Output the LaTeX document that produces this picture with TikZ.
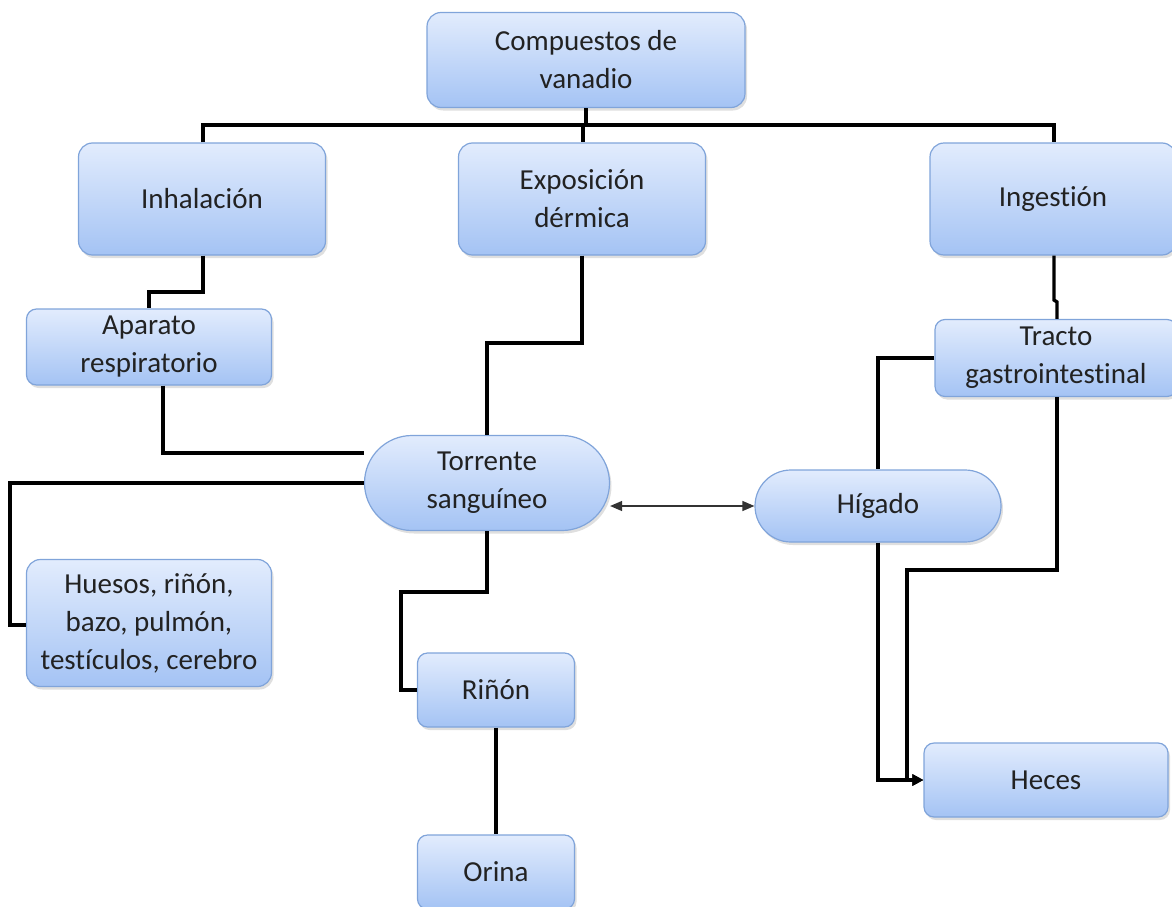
\documentclass[tikz,border=0pt]{standalone}
\usepackage{fontspec}
\setmainfont[Ligatures=NoCommon]{Carlito}
\usetikzlibrary{shapes.misc, arrows.meta, positioning, shadows}
\definecolor{boxtop}{RGB}{226, 236, 253}
\definecolor{boxbottom}{RGB}{164, 195, 244}
\definecolor{boxedge}{RGB}{128, 164, 218}
\definecolor{boxtext}{RGB}{34, 34, 34}
\tikzset{
  box/.style={rectangle, rounded corners=14pt, draw=boxedge, line width=1.2pt, top color=boxtop, bottom color=boxbottom, inner sep=0pt, align=center, text=boxtext, font=\fontsize{29}{38}\selectfont, drop shadow={opacity=0.25, shadow xshift=2pt, shadow yshift=-3pt}},
  pill/.style={box, rounded rectangle, rounded corners=0pt},
  link/.style={line width=3.4pt, draw=black, line join=miter},
  both/.style={line width=1.3pt, draw=black!80, {Triangle[length=12pt, width=10pt]}-{Triangle[length=12pt, width=10pt]}}
}
\begin{document}
\begin{tikzpicture}[x=1pt, y=-1pt]
    \useasboundingbox (0,0) rectangle (1172,907);
    % Source and exposure routes
    \node[box, minimum width=318pt, minimum height=95pt] (Vanadio) at (586, 60) {Compuestos de\\vanadio};
    \node[box, minimum width=247pt, minimum height=112pt] (Inhal) at (202, 199) {Inhalación};
    \node[box, minimum width=247pt, minimum height=112pt] (Dermica) at (582, 199) {Exposición\\dérmica};
    \node[box, minimum width=246pt, minimum height=112pt] (Ingest) at (1053, 199) {Ingestión};
    % Entry organs
    \node[box, minimum width=245pt, minimum height=76pt, rounded corners=10pt] (Resp) at (149, 347) {Aparato\\respiratorio};
    \node[box, minimum width=242pt, minimum height=77pt, rounded corners=10pt] (Tracto) at (1056, 358) {Tracto\\gastrointestinal};
    % Distribution
    \node[pill, minimum width=245pt, minimum height=95pt] (Sangre) at (487, 483) {Torrente\\sanguíneo};
    \node[pill, minimum width=246pt, minimum height=72pt] (Higado) at (878, 506) {Hígado};
    \node[box, minimum width=245pt, minimum height=127pt] (Organos) at (149, 623) {Huesos, riñón,\\bazo, pulmón,\\testículos, cerebro};
    % Elimination
    \node[box, minimum width=157pt, minimum height=74pt, rounded corners=10pt] (Rinon) at (496, 690) {Riñón};
    \node[box, minimum width=157pt, minimum height=74pt, rounded corners=10pt] (Orina) at (496, 872) {Orina};
    \node[box, minimum width=244pt, minimum height=74pt, rounded corners=10pt] (Heces) at (1046, 780) {Heces};

    % Connectors
    \draw[link] (Vanadio.south) -- (586, 125);
    \draw[link] (Inhal.north -| 203, 0) |- (1054, 125) -- (Ingest.north -| 1054, 0);
    \draw[link] (583, 125) -- (Dermica.north -| 583, 0);
    \draw[link] (Inhal.south -| 203, 0) |- (149, 292) -- (Resp.north);
    \draw[link] (Dermica.south) |- (487, 343) -- (Sangre.north);
    \draw[link] (Ingest.south -| 1054, 0) -- (1054, 300) -- (1057, 302) -- (Tracto.north -| 1057, 0);
    \draw[link] (Resp.south -| 163, 0) |- (Sangre.west |- 0, 453);
    \draw[link] (Sangre.west |- 0, 483) -| (10, 625) -- (Organos.west |- 0, 625);
    \draw[link] (Sangre.south) |- (401, 592) |- (Rinon.west);
    \draw[link] (Rinon.south) -- (Orina.north);
    \draw[link] (Tracto.west) -| (Higado.north);
    \draw[link, -{Triangle[length=11pt, width=11pt]}] (Higado.south) |- (Heces.west);
    \draw[link, -{Triangle[length=11pt, width=11pt]}] (Tracto.south -| 1057, 0) |- (907, 570) |- (Heces.west);
    \draw[both] (Sangre.east |- Higado.west) -- (Higado.west);
\end{tikzpicture}
\end{document}
